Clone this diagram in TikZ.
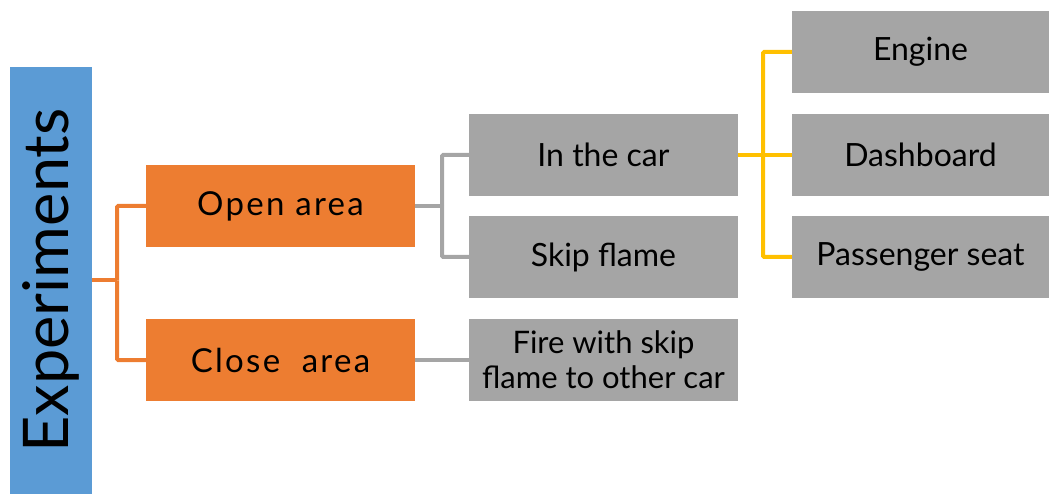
\documentclass[tikz,border=0pt]{standalone}
\usepackage{fontspec}
\setmainfont{Lato}
\definecolor{cblue}{HTML}{5B9BD5}
\definecolor{corange}{HTML}{ED7D31}
\definecolor{cgray}{HTML}{A5A5A5}
\definecolor{cyellow}{HTML}{FFC000}
\tikzset{
  box/.style={rectangle, inner sep=0pt, minimum width=269, minimum height=82, align=center, text=black},
  obox/.style={box, fill=corange, font=\fontsize{33}{36}\selectfont\addfontfeatures{LetterSpace=7}},
  gbox/.style={box, fill=cgray, font=\fontsize{32}{34}\selectfont},
  ybox/.style={box, fill=cgray, minimum width=257, font=\fontsize{32}{34}\selectfont},
  oline/.style={draw=corange, line width=4pt},
  gline/.style={draw=cgray, line width=4pt},
  yline/.style={draw=cyellow, line width=4pt},
}
\begin{document}
\begin{tikzpicture}[x=1pt,y=-1pt]
\useasboundingbox (0,0) rectangle (1049,494);
% root
\node[rectangle, fill=cblue, inner sep=0pt, minimum width=82, minimum height=427] (exp) at (51,280.5)
  {\rotatebox{90}{\fontsize{63}{66}\selectfont Experiments}};
% second level
\node[obox] (open)  at (280.5,206) {Open area};
\node[obox] (close) at (280.5,360) {Close\ \ area};
% third level
\node[gbox] (incar) at (603.5,155) {In the car};
\node[gbox] (skip)  at (603.5,257) {Skip flame};
\node[gbox, font=\fontsize{31}{35}\selectfont] (fire) at (603.5,360) {Fire with skip\\flame to other car};
% fourth level
\node[ybox] (engine) at (920.5,52)  {Engine};
\node[ybox] (dash)   at (920.5,155) {Dashboard};
\node[ybox] (pass)   at (920.5,257) {Passenger seat};
% connectors
\coordinate (j1) at ([xshift=25pt]exp.east);
\draw[oline] (exp.east) -- (j1);
\draw[oline, rounded corners=1pt] (j1) |- (open.west);
\draw[oline, rounded corners=1pt] (j1) |- (close.west);
\coordinate (j2) at ([xshift=27pt]open.east);
\draw[gline] (open.east) -- (j2);
\draw[gline, rounded corners=1pt] (j2) |- (incar.west);
\draw[gline, rounded corners=1pt] (j2) |- (skip.west);
\draw[gline] (close.east) -- (fire.west);
\coordinate (j3) at ([xshift=25pt]incar.east);
\draw[yline] (incar.east) -- (j3);
\draw[yline, rounded corners=1pt] (j3) |- (engine.west);
\draw[yline] (j3) -- (dash.west);
\draw[yline, rounded corners=1pt] (j3) |- (pass.west);
\end{tikzpicture}
\end{document}
